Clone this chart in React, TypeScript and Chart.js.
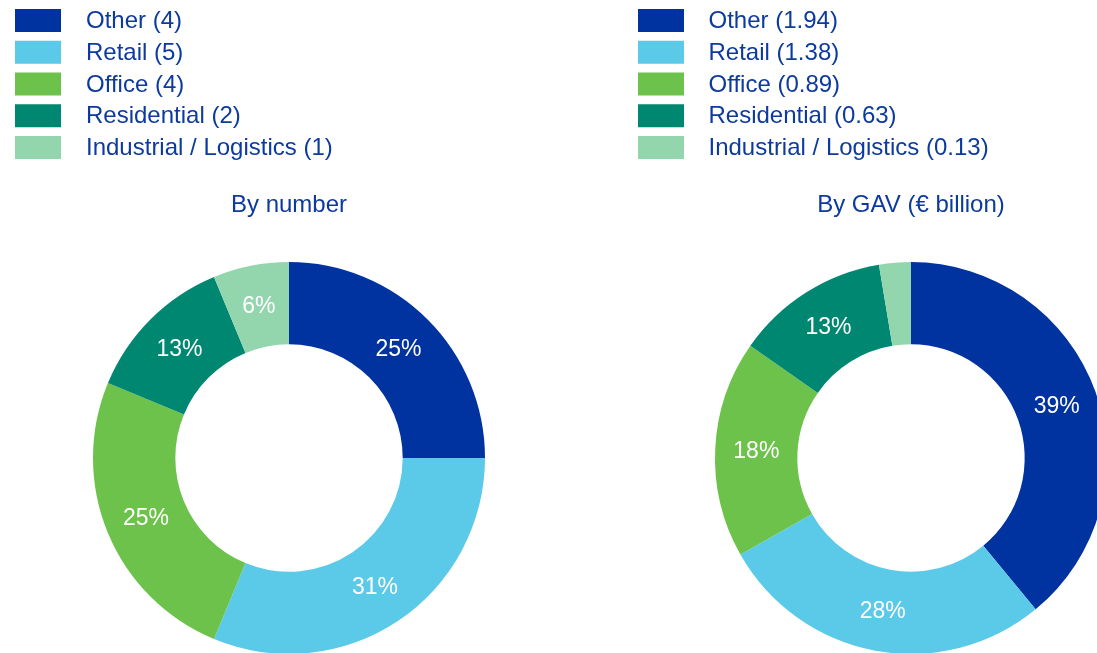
import React, { useEffect, useRef } from "react";
import { Chart, registerables } from "chart.js";

Chart.register(...registerables);

const categories = ["Other", "Retail", "Office", "Residential", "Industrial / Logistics"];
const countValues = [4, 5, 4, 2, 1];
const gavValues = [1.94, 1.38, 0.89, 0.63, 0.13];
const countLegendValues = ["4", "5", "4", "2", "1"];
const gavLegendValues = ["1.94", "1.38", "0.89", "0.63", "0.13"];
const colors = ["#0033a0", "#5bc9e8", "#6cc24a", "#008772", "#93d6ae"];
const titles = ["By number", "By GAV (€ billion)"];

const TEXT_COLOR = "#0c3a9e";
const FONT = "'Liberation Sans', Arial, sans-serif";

function makePlugin(title: string, legendValues: string[], swatchX: number, textX: number) {
  return {
    id: "custom-" + title,
    afterDraw(chart: any) {
      const ctx = chart.ctx;
      ctx.save();
      // legend
      ctx.font = `24px ${FONT}`;
      ctx.textBaseline = "middle";
      ctx.textAlign = "left";
      categories.forEach((c, i) => {
        const cy = 20.5 + i * 31.75;
        ctx.fillStyle = colors[i];
        ctx.fillRect(swatchX, cy - 11.5, 46, 23);
        ctx.fillStyle = TEXT_COLOR;
        ctx.fillText(`${c} (${legendValues[i]})`, textX, cy + 1);
      });
      // title
      const area = chart.chartArea;
      const cx = (area.left + area.right) / 2;
      ctx.textAlign = "center";
      ctx.fillText(title, cx, 205);
      // labels
      const meta = chart.getDatasetMeta(0);
      const data = chart.data.datasets[0].data as number[];
      const total = data.reduce((a, b) => a + b, 0);
      ctx.font = `23px ${FONT}`;
      ctx.fillStyle = "#ffffff";
      meta.data.forEach((arc: any, i: number) => {
        const pct = (data[i] / total) * 100;
        if (pct < 5) return;
        const p = arc.getCenterPoint();
        ctx.fillText(`${Math.round(pct)}%`, p.x, p.y + 1);
      });
      ctx.restore();
    },
  };
}

function Donut({ values, legendValues, title, left, swatchX, textX }: any) {
  const ref = useRef<HTMLCanvasElement>(null);
  useEffect(() => {
    if (!ref.current) return;
    const chart = new Chart(ref.current, {
      type: "doughnut",
      data: {
        labels: categories,
        datasets: [
          {
            data: values,
            backgroundColor: colors,
            borderWidth: 0,
            hoverOffset: 0,
            offset: 0,
          },
        ],
      },
      options: {
        responsive: false,
        maintainAspectRatio: false,
        devicePixelRatio: 1,
        animation: false,
        cutout: "58%",
        layout: { padding: { top: 262, bottom: 6, left: 0, right: 0 } },
        plugins: {
          legend: { display: false },
          tooltip: { enabled: false },
          title: { display: false },
        },
      },
      plugins: [makePlugin(title, legendValues, swatchX, textX)],
    });
    return () => chart.destroy();
  }, []);
  return (
    <canvas
      ref={ref}
      width={578}
      height={660}
      style={{ position: "absolute", left, top: 0, width: 578, height: 660 }}
    />
  );
}

export default function App() {
  return (
    <div
      style={{
        position: "fixed",
        left: 0,
        top: 0,
        width: 1097,
        height: 653,
        overflow: "hidden",
        background: "#ffffff",
      }}
    >
      <Donut values={countValues} legendValues={countLegendValues} title={titles[0]} left={0} swatchX={15} textX={86} />
      <Donut values={gavValues} legendValues={gavLegendValues} title={titles[1]} left={622} swatchX={16} textX={86.5} />
    </div>
  );
}
